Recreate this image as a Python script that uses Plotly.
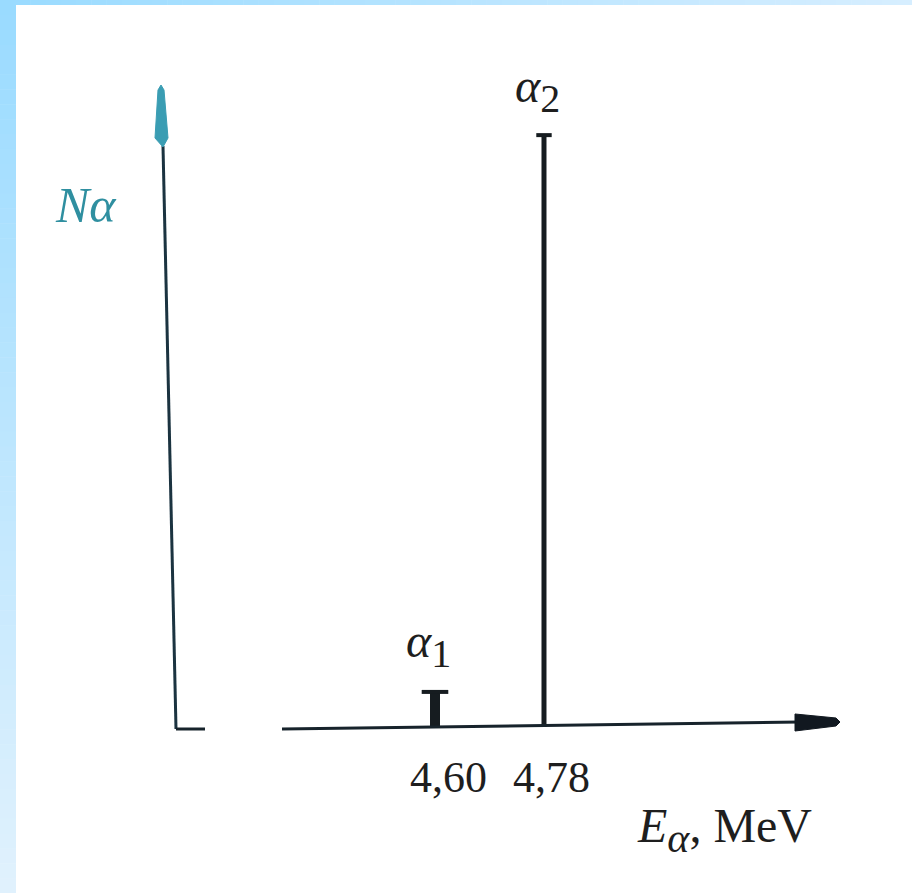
import plotly.graph_objects as go

# ---- data ----
energies = [4.60, 4.78]          # MeV
intensities = [5.6, 94.4]        # relative intensity, %
peak_names = ["1", "2"]
tick_labels = ["4,60", "4,78"]
y_title = "<i>N</i><i>α</i>"
x_title = "<i>E</i><sub><span style='font-size:42px'><i>α</i></span></sub>, MeV"

W, H = 912, 893
# data frame mapping (axis ranges)
X_RANGE = [3.8817, 5.3877]
Y_RANGE = [-26.47, 115.95]


def P(px, py):
    """pixel -> paper coordinates for decorations"""
    return px / W, 1 - py / H


fig = go.Figure()

# peaks (stems + serif caps)
stem_w = [10, 5]
cap_size = [19, 11]
for e, i, sw, cs in zip(energies, intensities, stem_w, cap_size):
    fig.add_trace(go.Scatter(x=[e, e], y=[0, i], mode="lines",
                             line=dict(color="#161c20", width=sw),
                             hoverinfo="skip", showlegend=False))
    fig.add_trace(go.Scatter(x=[e], y=[i], mode="markers",
                             marker=dict(symbol="line-ew", size=cs,
                                         line=dict(color="#161c20", width=4)),
                             hoverinfo="skip", showlegend=False))

shapes = []
# blue gradient frame (left strip and top strip)
def lerp(c1, c2, t):
    return "rgb(%d,%d,%d)" % tuple(round(a + (b - a) * t) for a, b in zip(c1, c2))

c_top = (154, 219, 255)
c_bot = (224, 241, 253)
c_right = (214, 238, 255)
n = 60
for k in range(n):
    y0 = H * k / n
    y1 = H * (k + 1) / n + 0.5
    shapes.append(dict(type="rect", xref="paper", yref="paper",
                       x0=0, x1=16 / W, y0=1 - y1 / H, y1=1 - y0 / H,
                       fillcolor=lerp(c_top, c_bot, k / (n - 1)), line_width=0, layer="above"))
for k in range(n):
    x0 = W * k / n
    x1 = W * (k + 1) / n + 0.5
    shapes.append(dict(type="rect", xref="paper", yref="paper",
                       x0=x0 / W, x1=x1 / W, y0=1 - 5 / H, y1=1,
                       fillcolor=lerp(c_top, c_right, k / (n - 1)), line_width=0, layer="above"))

# axes drawn as lines with arrowheads
ax_col = "#17232b"
def line(p1, p2, color=ax_col, w=3):
    a, b = P(*p1), P(*p2)
    shapes.append(dict(type="line", xref="paper", yref="paper",
                       x0=a[0], y0=a[1], x1=b[0], y1=b[1],
                       line=dict(color=color, width=w)))

def poly(pts, color):
    path = "M " + " L ".join("%f,%f" % P(x, y) for x, y in pts) + " Z"
    shapes.append(dict(type="path", xref="paper", yref="paper", path=path,
                       fillcolor=color, line=dict(color=color, width=1)))

# y axis
line((176, 729), (163, 146), color="#1b3340")
line((176, 729), (205, 729))
poly([(161, 85), (164, 90), (168, 138), (163, 147), (155, 138), (158, 90)], "#3a9db3")
# x axis
line((282, 729), (800, 722))
poly([(795, 714), (836, 718), (840, 722), (836, 726), (795, 731)], "#111820")

annotations = []
def text(t, px, py, size=42, color="#1e1e1e", **kw):
    x, y = P(px, py)
    annotations.append(dict(text=t, x=x, y=y, xref="paper", yref="paper",
                            showarrow=False, xanchor="center", yanchor="middle",
                            font=dict(family="Liberation Serif", size=size, color=color), **kw))

def peak_label(name, px, py):
    t = "<i>α</i><sub><span style='font-size:40px'>%s</span></sub>" % name
    text(t, px, py, size=48)

text(y_title, 86, 205, size=50, color="#2f8fa0")
peak_label(peak_names[0], 428, 645)
peak_label(peak_names[1], 537, 90)
text(tick_labels[0], 448, 777, size=44)
text(tick_labels[1], 551, 777, size=44)
text(x_title, 724, 830, size=48)

fig.update_layout(
    width=W, height=H, autosize=False,
    margin=dict(l=0, r=0, t=0, b=0),
    paper_bgcolor="white", plot_bgcolor="white",
    xaxis=dict(range=X_RANGE, visible=False, fixedrange=True),
    yaxis=dict(range=Y_RANGE, visible=False, fixedrange=True),
    shapes=shapes, annotations=annotations, showlegend=False,
)

fig.write_html("out.html", config={"displayModeBar": False},
               post_script="document.body.style.margin='0';document.body.style.overflow='hidden';")
